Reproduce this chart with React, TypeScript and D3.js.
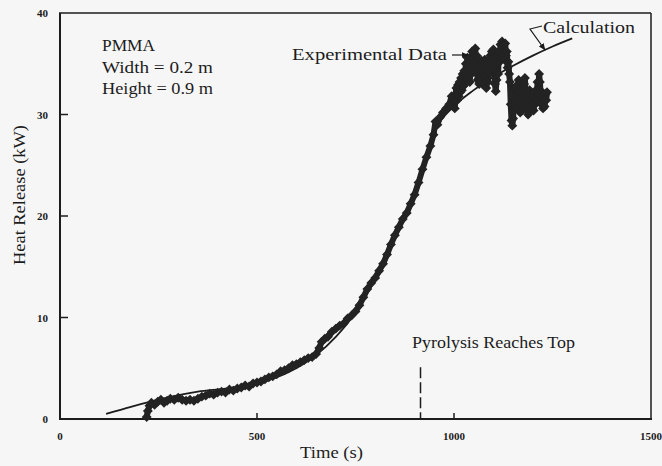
import React from "react";
import * as d3 from "d3";

const W = 662;
const H = 466;

// Measured heat release of the burning PMMA slab
const expTime = [
  220, 223, 227, 232, 240, 248, 256, 264, 272, 280, 290, 300, 310, 320, 330, 340, 350, 360, 370, 380,
  390, 400, 410, 420, 430, 440, 450, 460, 470, 480, 490, 500, 510, 520, 530, 540, 550, 560, 570, 580,
  590, 600, 610, 620, 630, 640, 650, 658, 664, 672, 680, 690, 700, 710, 720, 730, 740, 750, 760, 770,
  780, 790, 800, 810, 820, 830, 840, 850, 860, 870, 880, 890, 900, 910, 920, 930, 940, 948, 953, 958,
  964, 972, 980, 988, 994,
  1000, 1002, 1004, 1006, 1008, 1010, 1012, 1014, 1016, 1018, 1020, 1022, 1024, 1026, 1028, 1030, 1032, 1034, 1036, 1038,
  1040, 1042, 1044, 1046, 1048, 1050, 1052, 1054, 1056, 1058, 1060, 1062, 1064, 1066, 1068, 1070, 1072, 1074, 1076, 1078,
  1080, 1082, 1084, 1086, 1088, 1090, 1092, 1094, 1096, 1098, 1100, 1102, 1104, 1106, 1108, 1110, 1112, 1114, 1116, 1118,
  1120, 1122, 1124, 1126, 1128, 1130, 1132, 1134, 1136, 1138, 1140, 1142,
  1144, 1146, 1148, 1150, 1152, 1154, 1156, 1158, 1160, 1162, 1164, 1166, 1168, 1170, 1172, 1174, 1176, 1178, 1180, 1182,
  1184, 1186, 1188, 1190, 1192, 1194, 1196, 1198, 1200, 1202, 1204, 1206, 1208, 1210, 1212, 1214, 1216, 1218, 1220, 1222,
  1224, 1226, 1228, 1230, 1232, 1234, 1236,
];
const expHeat = [
  0.2, 0.8, 1.3, 1.6, 1.4, 1.7, 1.9, 1.6, 1.8, 2.0, 1.9, 2.1, 1.9, 1.8, 1.9, 1.8, 2.0, 2.2, 2.3, 2.5,
  2.4, 2.6, 2.7, 2.6, 2.9, 2.8, 3.0, 3.1, 3.3, 3.2, 3.5, 3.6, 3.7, 3.9, 4.1, 4.2, 4.4, 4.7, 4.8, 5.0,
  5.3, 5.4, 5.6, 5.8, 6.0, 6.1, 6.4, 7.0, 7.6, 7.9, 8.1, 8.6, 8.9, 9.2, 9.4, 9.9, 10.2, 10.6, 11.2, 12.0,
  12.8, 13.4, 13.9, 14.6, 15.3, 16.2, 17.2, 18.1, 18.9, 19.7, 20.3, 21.2, 22.1, 23.3, 24.6, 25.8, 26.9, 28.0, 29.3, 29.0,
  29.7, 30.2, 30.6, 31.0, 31.8,
  31.3, 30.6, 32.0, 32.6, 31.4, 32.9, 31.8, 33.2, 32.2, 33.6, 32.4, 34.0, 32.8, 34.3, 33.0, 35.0, 33.4, 35.6, 33.6, 34.8,
  33.2, 35.2, 34.0, 36.2, 34.4, 36.0, 34.2, 36.5, 35.0, 35.8, 33.4, 34.6, 33.0, 35.0, 33.6, 35.3, 33.0, 34.8, 33.6, 35.4,
  33.8, 32.6, 34.2, 33.2, 35.0, 34.0, 35.8, 34.6, 36.2, 35.0, 36.4, 34.4, 33.0, 32.3, 33.4, 35.0, 34.0, 36.2, 35.2, 36.9,
  35.6, 37.2, 35.8, 36.9, 35.4, 37.0, 35.8, 36.2, 34.6, 35.2, 34.0, 33.2,
  31.0, 29.4, 28.9, 29.6, 31.0, 32.6, 31.4, 32.8, 30.6, 32.2, 33.4, 31.0, 30.2, 31.6, 30.4, 32.6, 31.0, 33.0, 33.6, 31.8,
  30.6, 31.4, 30.0, 31.6, 32.4, 30.8, 32.0, 30.6, 31.8, 30.4, 32.2, 31.0, 32.4, 31.4, 33.2, 32.0, 34.0, 33.2, 32.0, 31.0,
  32.2, 30.6, 31.8, 30.8, 32.0, 31.4, 32.2,
];

// Model prediction
const calcTime = [117, 180, 260, 350, 420, 500, 580, 650, 700, 750, 800, 850, 900, 930, 955, 1000, 1050, 1100, 1150, 1200, 1250, 1300];
const calcHeat = [0.5, 1.2, 2.0, 2.7, 3.0, 3.5, 4.6, 6.3, 8.1, 10.5, 13.8, 18.0, 22.6, 26.0, 28.6, 30.8, 32.4, 33.7, 34.8, 35.8, 36.7, 37.5];

const xTicks = [0, 500, 1000, 1500];
const yTicks = [0, 10, 20, 30, 40];
const pyrolysisTime = 915;
const pyrolysisMarkTop = 5.1;

const infoLines = ["PMMA", "Width = 0.2 m", "Height = 0.9 m"];

const serif = "'Liberation Serif', 'DejaVu Serif', serif";
const ink = "#1c1c1c";
const dataInk = "#232323";

export default function App() {
  const x = d3.scaleLinear().domain([0, 1500]).range([60, 651]);
  const y = d3.scaleLinear().domain([0, 40]).range([419, 13]);

  const expPts: [number, number][] = expTime.map((t, i) => [t, expHeat[i]]);
  const calcPts: [number, number][] = calcTime.map((t, i) => [t, calcHeat[i]]);

  const expLine = d3
    .line<[number, number]>()
    .x((d) => x(d[0]))
    .y((d) => y(d[1]))(expPts);
  const calcLine = d3
    .line<[number, number]>()
    .x((d) => x(d[0]))
    .y((d) => y(d[1]))
    .curve(d3.curveMonotoneX)(calcPts);

  const px = x(pyrolysisTime);

  return (
    <svg
      width={W}
      height={H}
      style={{ position: "fixed", left: 0, top: 0, background: "#f6f6f6" }}
    >
      <defs>
        <marker id="arr" viewBox="0 0 10 10" refX="9" refY="5" markerWidth="6" markerHeight="6" orient="auto">
          <path d="M0,1 L10,5 L0,9 Z" fill={ink} />
        </marker>
      </defs>
      <rect width={W} height={H} fill="#f6f6f6" />

      {/* frame */}
      <line x1={60} x2={60} y1={13} y2={420} stroke={ink} strokeWidth={2} />
      <line x1={59} x2={652} y1={419} y2={419} stroke={ink} strokeWidth={2} />
      <line x1={59} x2={651} y1={13} y2={13} stroke={ink} strokeWidth={1.5} />
      <line x1={651} x2={651} y1={13} y2={420} stroke={ink} strokeWidth={1.5} />

      {/* ticks */}
      {yTicks.slice(1, -1).map((v) => (
        <line key={"yt" + v} x1={60} x2={68} y1={y(v)} y2={y(v)} stroke={ink} strokeWidth={1.5} />
      ))}
      {xTicks.slice(1, -1).map((v) => (
        <line key={"xt" + v} x1={x(v)} x2={x(v)} y1={419} y2={413} stroke={ink} strokeWidth={1.5} />
      ))}

      {/* tick labels */}
      {yTicks.map((v) => (
        <text
          key={"yl" + v}
          x={48}
          y={y(v) + 4}
          textAnchor="end"
          fontFamily={serif}
          fontSize={11}
          fontWeight="bold"
          fill={ink}
        >
          {v}
        </text>
      ))}
      {xTicks.map((v) => (
        <text
          key={"xl" + v}
          x={x(v)}
          y={440}
          textAnchor="middle"
          fontFamily={serif}
          fontSize={11}
          fontWeight="bold"
          fill={ink}
        >
          {v}
        </text>
      ))}

      {/* axis titles */}
      <text x={300} y={458} fontFamily={serif} fontSize={17} fill={ink} textLength={63} lengthAdjust="spacingAndGlyphs">
        Time (s)
      </text>
      <text
        transform="translate(25,265) rotate(-90)"
        fontFamily={serif}
        fontSize={17}
        fill={ink}
        textLength={140}
        lengthAdjust="spacingAndGlyphs"
      >
        Heat Release (kW)
      </text>

      {/* specimen info */}
      {infoLines.map((s, i) => (
        <text
          key={s}
          x={102}
          y={51 + i * 21.5}
          fontFamily={serif}
          fontSize={17}
          fill={ink}
          textLength={i === 0 ? 53 : 111}
          lengthAdjust="spacingAndGlyphs"
        >
          {s}
        </text>
      ))}

      {/* calculation curve */}
      <path d={calcLine || ""} fill="none" stroke={ink} strokeWidth={1.8} />

      {/* experimental data */}
      <path
        d={expLine || ""}
        fill="none"
        stroke={dataInk}
        strokeWidth={6}
        strokeLinejoin="round"
        strokeLinecap="round"
      />
      {expPts.map((d, i) => (
        <rect
          key={"p" + i}
          x={x(d[0]) - 3.5}
          y={y(d[1]) - 3.5}
          width={7}
          height={7}
          fill={dataInk}
          transform={`rotate(45 ${x(d[0])} ${y(d[1])})`}
        />
      ))}

      {/* pyrolysis marker */}
      <line
        x1={px}
        x2={px}
        y1={y(pyrolysisMarkTop)}
        y2={419}
        stroke={ink}
        strokeWidth={1.5}
        strokeDasharray="11 4"
      />
      <text x={412} y={348} fontFamily={serif} fontSize={17} fill={ink} textLength={163} lengthAdjust="spacingAndGlyphs">
        Pyrolysis Reaches Top
      </text>

      {/* annotations */}
      <text x={292} y={60} fontFamily={serif} fontSize={17} fill={ink} textLength={155} lengthAdjust="spacingAndGlyphs">
        Experimental Data
      </text>
      <line x1={452} x2={468} y1={55} y2={55} stroke={ink} strokeWidth={1.2} markerEnd="url(#arr)" />
      <text x={543} y={33} fontFamily={serif} fontSize={17} fill={ink} textLength={92} lengthAdjust="spacingAndGlyphs">
        Calculation
      </text>
      <polyline
        points="542,26 530,29 545,50"
        fill="none"
        stroke={ink}
        strokeWidth={1.2}
        markerEnd="url(#arr)"
      />
    </svg>
  );
}
